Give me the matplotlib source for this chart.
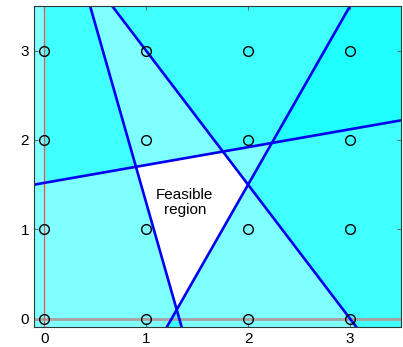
import numpy as np
import matplotlib.pyplot as plt

plt.rcParams['font.family'] = ['Liberation Sans', 'DejaVu Sans']

# constraints  a*x + b*y <= c
a_coef = [-0.2, -4.0, 3.0, 2.0]
b_coef = [1.0, -1.0, 2.0, -1.0]
c_coef = [1.52, -5.3, 9.0, 2.5]
# x range where the infeasible side is shaded
shade_from = [0.0, -0.1, 0.0, 0.0]

grid_x = [0, 1, 2, 3]
grid_y = [0, 1, 2, 3]

xmin, xmax = -0.1, 3.5
ymin, ymax = -0.09, 3.5

fig = plt.figure(figsize=(4.03, 3.47), dpi=100)
ax = fig.add_axes([0.0844, 0.0585, 0.9106, 0.9242])

for a, b, c, x0 in zip(a_coef, b_coef, c_coef, shade_from):
    xs = np.linspace(x0, xmax, 400)
    line = (c - a * xs) / b
    if b > 0:
        lo = np.clip(line, ymin - 1, ymax + 1)
        ax.fill_between(xs, lo, ymax + 1, color='cyan', alpha=0.5, lw=0, zorder=1)
    else:
        hi = np.clip(line, ymin - 1, ymax + 1)
        ax.fill_between(xs, ymin - 1, hi, color='cyan', alpha=0.5, lw=0, zorder=1)

# axis lines
ax.axhline(0, color='#a8a0a0', lw=2, zorder=2)
ax.axvline(0, color='#f05050', lw=0.9, zorder=2)

for a, b, c in zip(a_coef, b_coef, c_coef):
    xs = np.linspace(xmin, xmax, 400)
    ax.plot(xs, (c - a * xs) / b, color='#0000ee', lw=1.9, zorder=3)

gx, gy = np.meshgrid(grid_x, grid_y)
ax.plot(gx.ravel(), gy.ravel(), 'o', mfc='none', mec='black', ms=7, mew=1, zorder=4)

ax.text(1.38, 1.3, "Feasible\nregion", ha='center', va='center', fontsize=11,
        linespacing=1.1, zorder=5)

ax.set_xlim(xmin, xmax)
ax.set_ylim(ymin, ymax)
ax.set_xticks(grid_x)
ax.set_yticks(grid_y)
ax.tick_params(direction='in', length=3, top=True, right=True, labelsize=11,
               color='#607070')
for s in ax.spines.values():
    s.set_color('#2a3a3a')
    s.set_zorder(6)

plt.savefig("out.png")
